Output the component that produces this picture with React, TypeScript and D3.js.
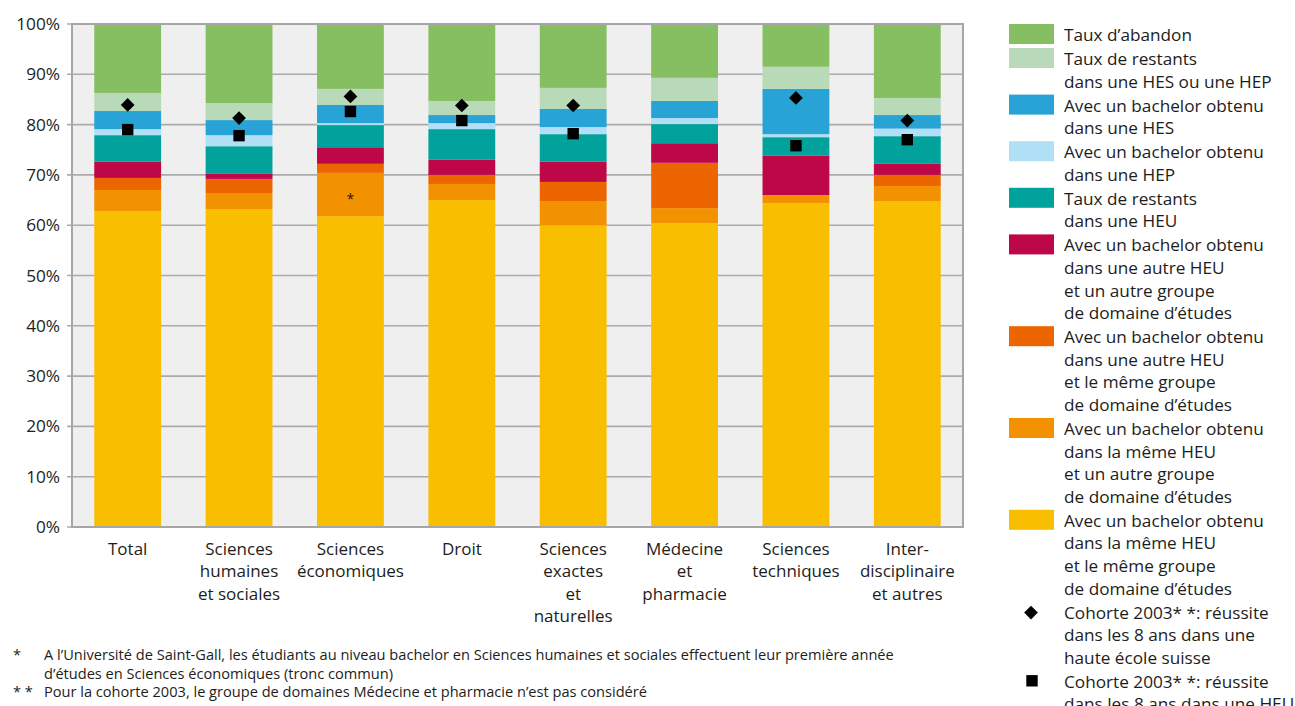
import React from "react";
import * as d3 from "d3";

const categories = [
  "Total",
  "Sciences\nhumaines\net sociales",
  "Sciences\néconomiques",
  "Droit",
  "Sciences\nexactes\net\nnaturelles",
  "Médecine\net\npharmacie",
  "Sciences\ntechniques",
  "Inter-\ndisciplinaire\net autres",
];

// bottom to top
const memeHeuMemeGroupe = [62.8, 63.2, 61.8, 65.0, 60.0, 60.4, 64.4, 64.8];
const memeHeuAutreGroupe = [4.2, 3.2, 8.6, 3.2, 4.8, 3.0, 1.6, 3.0];
const autreHeuMemeGroupe = [2.4, 2.8, 1.8, 1.8, 3.8, 9.0, 0.0, 2.2];
const autreHeuAutreGroupe = [3.2, 1.0, 3.3, 3.0, 4.0, 3.9, 7.8, 2.2];
const restantsHeu = [5.3, 5.5, 4.4, 6.1, 5.5, 3.8, 3.7, 5.5];
const bachelorHep = [1.2, 2.2, 0.4, 1.2, 1.4, 1.2, 0.6, 1.5];
const bachelorHes = [3.6, 3.0, 3.6, 1.6, 3.6, 3.4, 9.0, 2.7];
const restantsHesHep = [3.6, 3.4, 3.2, 2.8, 4.2, 4.6, 4.4, 3.4];
const abandon = [13.7, 15.7, 12.9, 15.3, 12.7, 10.7, 8.5, 14.7];

const cohorteHautesEcoles = [83.9, 81.3, 85.6, 83.8, 83.8, null, 85.3, 80.8];
const cohorteHeu = [79.0, 77.8, 82.6, 80.8, 78.2, null, 75.8, 77.0];

const yTicks = [0, 10, 20, 30, 40, 50, 60, 70, 80, 90, 100];

const series = [
  { key: "y", values: memeHeuMemeGroupe, color: "#FABE00",
    label: ["Avec un bachelor obtenu", "dans la même HEU", "et le même groupe", "de domaine d’études"] },
  { key: "o", values: memeHeuAutreGroupe, color: "#F39200",
    label: ["Avec un bachelor obtenu", "dans la même HEU", "et un autre groupe", "de domaine d’études"] },
  { key: "do", values: autreHeuMemeGroupe, color: "#EC6500",
    label: ["Avec un bachelor obtenu", "dans une autre HEU", "et le même groupe", "de domaine d’études"] },
  { key: "cr", values: autreHeuAutreGroupe, color: "#BE0747",
    label: ["Avec un bachelor obtenu", "dans une autre HEU", "et un autre groupe", "de domaine d’études"] },
  { key: "te", values: restantsHeu, color: "#00A29B",
    label: ["Taux de restants", "dans une HEU"] },
  { key: "lb", values: bachelorHep, color: "#B1DFF6",
    label: ["Avec un bachelor obtenu", "dans une HEP"] },
  { key: "bl", values: bachelorHes, color: "#28A3D6",
    label: ["Avec un bachelor obtenu", "dans une HES"] },
  { key: "lg", values: restantsHesHep, color: "#B8DAB9",
    label: ["Taux de restants", "dans une HES ou une HEP"] },
  { key: "g", values: abandon, color: "#86BE62",
    label: ["Taux d’abandon"] },
];

const FONT = "'Open Sans', sans-serif";
const TXT = "#1d1d1b";

export default function App() {
  const width = 1295;
  const height = 706;
  const left = 72, right = 963, top = 24, bottom = 527;

  const x = d3.scaleBand<string>().domain(categories).range([left, right]).paddingInner(0.4).paddingOuter(0.2);
  const y = d3.scaleLinear().domain([0, 100]).range([bottom, top]);

  const rows = categories.map((c, i) => {
    const r: any = { cat: c };
    series.forEach((s) => (r[s.key] = s.values[i]));
    return r;
  });
  const stacked = d3.stack<any>().keys(series.map((s) => s.key))(rows);

  const diamond = d3.symbol().type(d3.symbolDiamond2).size(120)()!;
  const square = d3.symbol().type(d3.symbolSquare).size(130)()!;

  // legend layout
  const lineH = 22.6;
  const legendItems = [...series].reverse().map((s) => ({ kind: "rect", color: s.color, label: s.label }));
  const allLegend: any[] = [
    ...legendItems,
    { kind: "diamond", label: ["Cohorte 2003* *: réussite", "dans les 8 ans dans une", "haute école suisse"] },
    { kind: "square", label: ["Cohorte 2003* *: réussite", "dans les 8 ans dans une HEU"] },
  ];
  let ly = 24;
  const legendPos = allLegend.map((it) => {
    const p = ly;
    ly += it.label.length * lineH + 1.4;
    return p;
  });

  const ecoIdx = 2;
  const ecoMid = memeHeuMemeGroupe[ecoIdx] + memeHeuAutreGroupe[ecoIdx] / 2;

  return (
    <div style={{ position: "absolute", left: 0, top: 0 }}>
      <svg width={width} height={height} style={{ display: "block", fontFamily: FONT }}>
        <rect x={left} y={top} width={right - left} height={bottom - top} fill="#EFEFEF" />
        {yTicks.map((t) => (
          <g key={t}>
            <line x1={left - 5} x2={right} y1={y(t)} y2={y(t)} stroke="#ABABAB" strokeWidth={1.6} />
            <text x={60} y={y(t)} dy="0.35em" textAnchor="end" fontSize={17.2} fill={TXT}>
              {t}%
            </text>
          </g>
        ))}
        {stacked.map((layer, li) => (
          <g key={layer.key} fill={series[li].color}>
            {layer.map((d, i) => (
              <rect
                key={i}
                x={x(categories[i])!}
                width={x.bandwidth()}
                y={y(d[1])}
                height={Math.max(0, y(d[0]) - y(d[1]))}
              />
            ))}
          </g>
        ))}
        <rect x={left} y={top} width={right - left} height={bottom - top} fill="none" stroke="#A6A6A6" strokeWidth={2} />
        <text
          x={x(categories[ecoIdx])! + x.bandwidth() / 2}
          y={y(ecoMid)}
          dy="0.65em"
          textAnchor="middle"
          fontSize={14}
          fill={TXT}
        >
          *
        </text>
        {cohorteHautesEcoles.map((v, i) =>
          v == null ? null : (
            <path key={"d" + i} d={diamond} fill="#000"
              transform={`translate(${x(categories[i])! + x.bandwidth() / 2},${y(v)})`} />
          )
        )}
        {cohorteHeu.map((v, i) =>
          v == null ? null : (
            <path key={"s" + i} d={square} fill="#000"
              transform={`translate(${x(categories[i])! + x.bandwidth() / 2},${y(v)})`} />
          )
        )}
        {categories.map((c) => (
          <text key={c} x={x(c)! + x.bandwidth() / 2} y={549} textAnchor="middle" fontSize={17} fill={TXT}>
            {c.split("\n").map((l, j) => (
              <tspan key={j} x={x(c)! + x.bandwidth() / 2} y={549 + j * 22.5} dy="0.35em">
                {l}
              </tspan>
            ))}
          </text>
        ))}
        {allLegend.map((it, i) => {
          const py = legendPos[i];
          return (
            <g key={i}>
              {it.kind === "rect" && <rect x={1009} y={py} width={45} height={20} fill={it.color} />}
              {it.kind === "diamond" && <path d={diamond} transform={`translate(1031,${py + 11})`} fill="#000" />}
              {it.kind === "square" && <path d={square} transform={`translate(1032,${py + 10})`} fill="#000" />}
              <text fontSize={17.2} fill={TXT}>
                {it.label.map((l: string, j: number) => (
                  <tspan key={j} x={1064} y={py + 11 + j * lineH} dy="0.35em">
                    {l}
                  </tspan>
                ))}
              </text>
            </g>
          );
        })}
        <g fontSize={14.6} fill={TXT}>
          <text x={13} y={655} dy="0.35em">*</text>
          <text x={44} y={655} dy="0.35em">
            A l’Université de Saint-Gall, les étudiants au niveau bachelor en Sciences humaines et sociales effectuent leur première année
          </text>
          <text x={44} y={674} dy="0.35em">d’études en Sciences économiques (tronc commun)</text>
          <text x={13} y={692} dy="0.35em">* *</text>
          <text x={44} y={692} dy="0.35em">
            Pour la cohorte 2003, le groupe de domaines Médecine et pharmacie n’est pas considéré
          </text>
        </g>
      </svg>
    </div>
  );
}
